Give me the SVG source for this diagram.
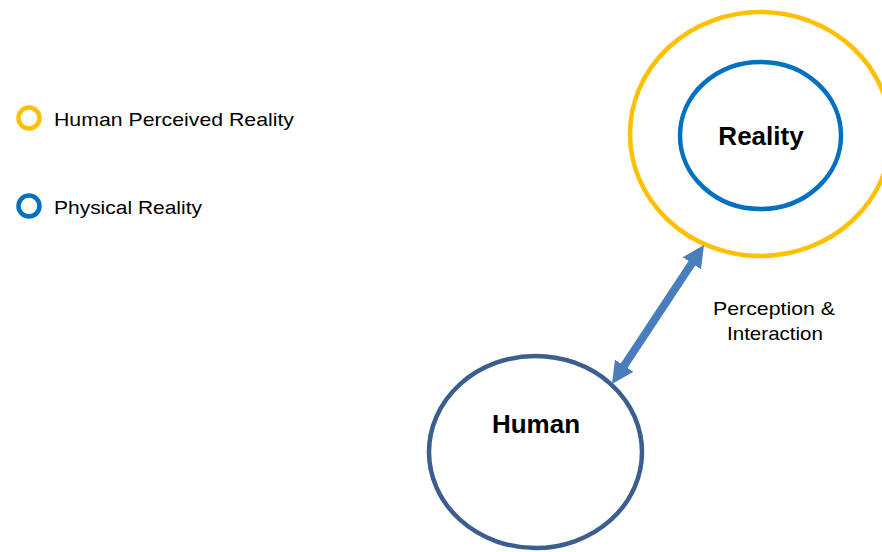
<svg xmlns="http://www.w3.org/2000/svg" width="882" height="552" viewBox="0 0 882 552">
<defs>
<style>
.lbl{font-family:"Liberation Sans",Arial,sans-serif;font-size:19px;fill:#000}
.node-lbl{font-family:"Liberation Sans",Arial,sans-serif;font-size:26px;font-weight:bold;fill:#000;text-anchor:middle}
.yellow{fill:none;stroke:#FFC000;stroke-width:4.5}
.blue{fill:none;stroke:#0070C0;stroke-width:4.5}
.human{fill:none;stroke:#3A5F8E;stroke-width:4.5}
.conn{stroke:#4A7EBB;stroke-width:8;fill:none}
</style>
<marker id="ah" markerUnits="userSpaceOnUse" markerWidth="22" markerHeight="22" viewBox="0 0 22 22" refX="7" refY="11" orient="auto-start-reverse">
<path d="M0,0 L22,11 L0,22 z" fill="#4A7EBB"/>
</marker>
</defs>
<rect width="882" height="552" fill="#fff"/>
<g id="legend">
<g id="legend-perceived">
<circle class="yellow" cx="29" cy="118" r="10.5"/>
<text class="lbl" x="54" y="126" textLength="240" lengthAdjust="spacingAndGlyphs">Human Perceived Reality</text>
</g>
<g id="legend-physical">
<circle class="blue" cx="29" cy="206" r="10.5"/>
<text class="lbl" x="54" y="214" textLength="148" lengthAdjust="spacingAndGlyphs">Physical Reality</text>
</g>
</g>
<g id="reality">
<ellipse class="yellow" cx="760.5" cy="134" rx="130.5" ry="122"/>
<ellipse class="blue" cx="760.5" cy="135.5" rx="80.5" ry="73.5"/>
<text class="node-lbl" x="761" y="145">Reality</text>
</g>
<g id="human">
<ellipse class="human" cx="535.5" cy="452" rx="106.5" ry="96"/>
<text class="node-lbl" x="536" y="433">Human</text>
</g>
<g id="connectors">
<line class="conn" x1="620.3" y1="371.5" x2="695.7" y2="257.5" marker-start="url(#ah)" marker-end="url(#ah)"/>
<text class="lbl" text-anchor="middle" x="774" y="315" textLength="122" lengthAdjust="spacingAndGlyphs">Perception &amp;</text>
<text class="lbl" text-anchor="middle" x="775" y="340" textLength="96" lengthAdjust="spacingAndGlyphs">Interaction</text>
</g>
</svg>
